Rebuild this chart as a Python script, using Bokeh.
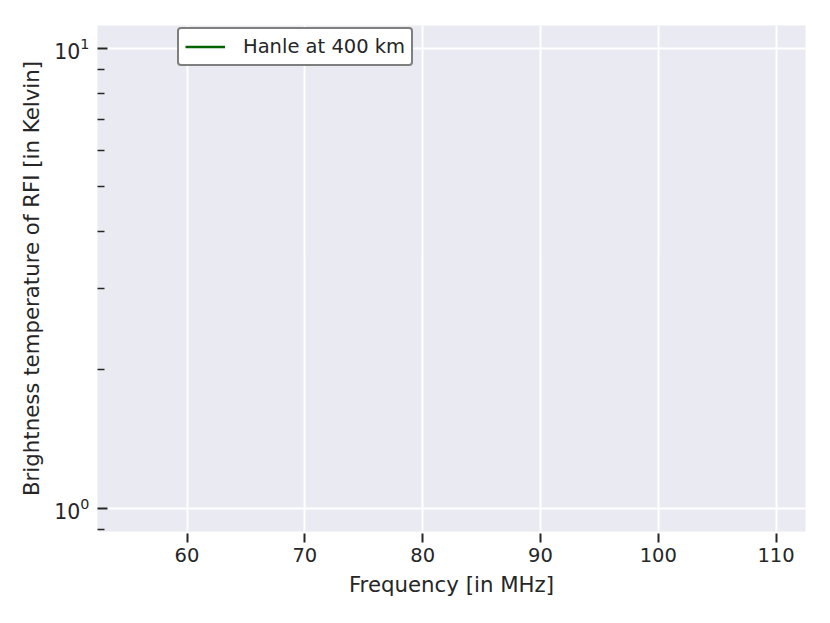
from bokeh.plotting import figure
from bokeh.models import Range1d, Legend, LegendItem, FixedTicker, LogTickFormatter
from bokeh.embed import file_html
from bokeh.resources import INLINE

# Data (the series has no visible points in the reference chart)
freq_mhz = [55, 60, 65, 70, 75, 80, 85, 90, 95, 100, 105, 110]
temp_hanle_400km = [float("nan")] * len(freq_mhz)
series_label = "Hanle at 400 km"
x_ticks = [60, 70, 80, 90, 100, 110]
y_major_ticks = [1, 10]
y_minor_ticks = [0.9, 2, 3, 4, 5, 6, 7, 8, 9]
x_limits = (52.4, 112.5)
y_limits = (0.891, 11.22)

TXT = "#262626"
FONT = "DejaVu Sans"

p = figure(width=822, height=608, output_backend="svg", toolbar_location=None,
           y_axis_type="log",
           x_range=Range1d(*x_limits), y_range=Range1d(*y_limits),
           min_border_left=97, min_border_right=17, min_border_top=25, min_border_bottom=77)

p.background_fill_color = "#EAEAF2"
p.border_fill_color = "white"
p.outline_line_color = None

r = p.line(freq_mhz, temp_hanle_400km, line_color="#006400", line_width=2.6)

# grids
for g in (p.xgrid, p.ygrid):
    g.grid_line_color = "white"
    g.grid_line_width = 2
p.ygrid.minor_grid_line_color = None

# x axis
xa = p.xaxis[0]
xa.ticker = FixedTicker(ticks=x_ticks)
xa.axis_line_color = None
xa.major_tick_line_color = TXT
xa.major_tick_line_width = 2
xa.major_tick_in = -2
xa.major_tick_out = 11
xa.minor_tick_line_color = None
xa.major_label_text_font = FONT
xa.major_label_text_font_size = "19.5px"
xa.major_label_text_color = TXT
xa.major_label_standoff = 5
xa.axis_label = "Frequency [in MHz]"
xa.axis_label_text_font = FONT
xa.axis_label_text_font_size = "21.3px"
xa.axis_label_text_font_style = "normal"
xa.axis_label_text_color = TXT
xa.axis_label_standoff = 7

# y axis
ya = p.yaxis[0]
ya.ticker = FixedTicker(ticks=y_major_ticks, minor_ticks=y_minor_ticks)
ya.formatter = LogTickFormatter()
p.ygrid.ticker = ya.ticker
ya.axis_line_color = None
ya.major_tick_line_color = TXT
ya.major_tick_line_width = 2
ya.major_tick_in = 10
ya.major_tick_out = 0
ya.minor_tick_line_color = TXT
ya.minor_tick_line_width = 1.6
ya.minor_tick_in = 7
ya.minor_tick_out = 0
ya.major_label_text_font = FONT
ya.major_label_text_font_size = "20.5px"
ya.major_label_text_color = TXT
ya.major_label_standoff = 8
ya.axis_label = "Brightness temperature of RFI [in Kelvin]"
ya.axis_label_text_font = FONT
ya.axis_label_text_font_size = "21.3px"
ya.axis_label_text_font_style = "normal"
ya.axis_label_text_color = TXT
ya.axis_label_standoff = 7

legend = Legend(items=[LegendItem(label=series_label, renderers=[r])],
                location=(80, 465))
legend.label_text_font = FONT
legend.label_text_font_size = "19.5px"
legend.label_text_color = TXT
legend.label_height = 19
legend.glyph_width = 40
legend.glyph_height = 19
legend.label_standoff = 18
legend.padding = 6
legend.spacing = 0
legend.margin = 0
legend.border_line_color = "black"
legend.border_line_width = 2
legend.border_radius = 4
legend.background_fill_color = "white"
legend.background_fill_alpha = 1.0
p.add_layout(legend, "center")

open("out.html", "w").write(file_html(p, INLINE))
